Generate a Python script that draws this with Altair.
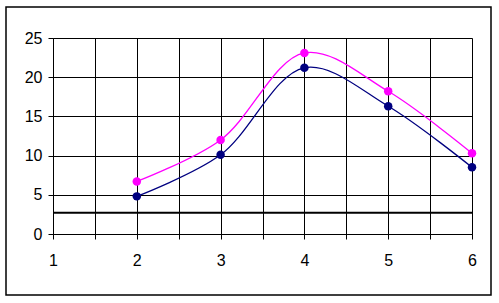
import altair as alt
import pandas as pd

x_vals = [2, 3, 4, 5, 6]
series_a = [6.7, 12.0, 23.1, 18.2, 10.3]   # magenta
series_b = [4.8, 10.1, 21.2, 16.3, 8.5]    # navy
threshold = 2.7
x_ticks = [1, 1.5, 2, 2.5, 3, 3.5, 4, 4.5, 5, 5.5, 6]
y_ticks = [0, 5, 10, 15, 20, 25]

df = pd.DataFrame({
    "x": x_vals * 2,
    "y": series_a + series_b,
    "s": ["A"] * 5 + ["B"] * 5,
})

W, H = 419, 196
font = "Liberation Sans"

xscale = alt.Scale(domain=[1, 6], nice=False)
yscale = alt.Scale(domain=[0, 25], nice=False)
color = alt.Color("s:N", scale=alt.Scale(domain=["A", "B"], range=["#FF00FF", "#000080"]), legend=None)

xaxis = alt.Axis(values=x_ticks,
                 labelExpr="datum.value % 1 == 0 ? format(datum.value, 'd') : ''",
                 grid=True, gridColor="black", gridOpacity=1, gridWidth=1,
                 domainColor="black", tickColor="black", tickSize=5,
                 labelFont=font, labelFontSize=16, labelColor="black", labelPadding=13,
                 labelOverlap=False, title=None, labelFlush=False)
yaxis = alt.Axis(values=y_ticks, format="d", grid=True, gridColor="black", gridOpacity=1, gridWidth=1,
                 domainColor="black", tickColor="black", tickSize=5,
                 labelFont=font, labelFontSize=16, labelColor="black", labelPadding=6,
                 labelOverlap=False, title=None)

base = alt.Chart(df)
lines = base.mark_line(interpolate="catmull-rom", strokeWidth=1.3, clip=False).encode(
    x=alt.X("x:Q", scale=xscale, axis=xaxis),
    y=alt.Y("y:Q", scale=yscale, axis=yaxis),
    color=color,
    detail="s:N",
)
points = base.mark_circle(size=72, opacity=1).encode(
    x=alt.X("x:Q", scale=xscale, axis=xaxis),
    y=alt.Y("y:Q", scale=yscale, axis=yaxis),
    color=color,
)
rule = alt.Chart(pd.DataFrame({"t": [threshold]})).mark_rule(color="black", strokeWidth=2).encode(
    y=alt.Y("t:Q", scale=yscale, axis=yaxis)
)
border = alt.Chart(pd.DataFrame({"a": [0]})).mark_rect(
    fill=None, stroke="black", strokeWidth=1.5, clip=False
).encode(
    x=alt.value(-47), x2=alt.value(438), y=alt.value(-31), y2=alt.value(257)
)

chart = alt.layer(border, rule, lines, points).properties(
    width=W, height=H,
    autosize=alt.AutoSizeParams(type="none"),
    padding={"left": 53, "top": 38, "right": 27, "bottom": 69},
).configure_view(stroke=None).configure(background="white")

chart.save("out.html", embed_options={"renderer": "svg", "actions": False})
